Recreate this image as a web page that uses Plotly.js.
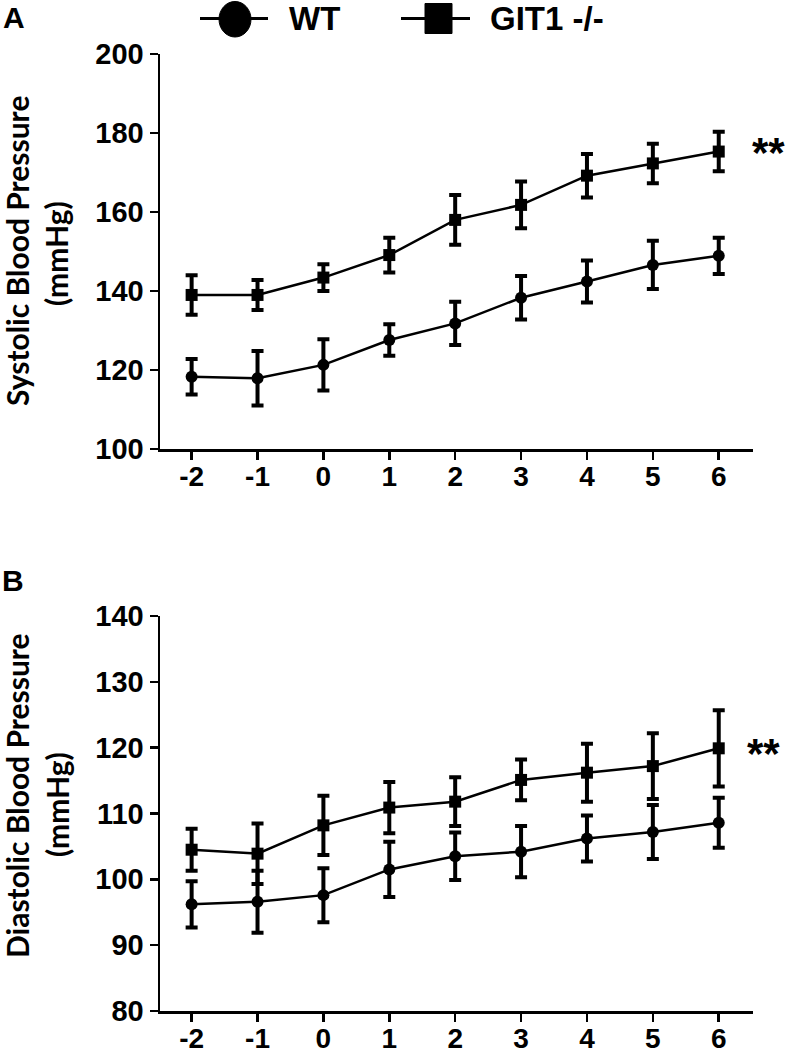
<!DOCTYPE html>
<html>
<head>
<meta charset="utf-8">
<script src="https://cdn.plot.ly/plotly-3.0.1.min.js"></script>
<style>html,body{margin:0;padding:0;background:#fff;}#chart{width:789px;height:1055px;}</style>
</head>
<body>
<div id="chart"></div>
<script>
// ---- data ----
var days = [-2, -1, 0, 1, 2, 3, 4, 5, 6];
var dayTicks = ['-2', '-1', '0', '1', '2', '3', '4', '5', '6'];

var wtSys     = [118.3, 117.9, 121.3, 127.6, 131.8, 138.3, 142.4, 146.6, 148.9];
var wtSysErr  = [4.5, 6.9, 6.5, 4.0, 5.5, 5.5, 5.3, 6.1, 4.6];
var gitSys    = [139.0, 139.0, 143.4, 149.1, 158.0, 161.8, 169.2, 172.3, 175.3];
var gitSysErr = [5.0, 3.8, 3.4, 4.4, 6.3, 5.9, 5.5, 5.0, 5.0];

var wtDia     = [96.2, 96.6, 97.6, 101.5, 103.5, 104.2, 106.2, 107.2, 108.6];
var wtDiaErr  = [3.5, 4.7, 4.1, 4.2, 3.6, 3.9, 3.5, 4.1, 3.8];
var gitDia    = [104.5, 103.9, 108.2, 110.9, 111.8, 115.1, 116.2, 117.2, 119.9];
var gitDiaErr = [3.2, 4.6, 4.5, 3.9, 3.7, 3.1, 4.4, 5.0, 5.8];

var seriesNames = ['WT', 'GIT1 -/-'];
var sysTicks = [100, 120, 140, 160, 180, 200];
var diaTicks = [80, 90, 100, 110, 120, 130, 140];
var sysTitle = 'Systolic Blood Pressure';
var diaTitle = 'Diastolic Blood Pressure';
var unitTitle = '(mmHg)';
var sigMark = '**';

// ---- layout helpers ----
var W = 789, H = 1055;
function px(x) { return x / W; }
function py(y) { return 1 - y / H; }

var numFont = {family: 'Liberation Sans, Arial, sans-serif', size: 29, color: '#000', weight: 'bold'};
var xNumFont = {family: 'Liberation Sans, Arial, sans-serif', size: 28, color: '#000', weight: 'bold'};
var titleFont = {family: 'Lato, Liberation Sans, sans-serif', size: 30, color: '#000', weight: 'bold'};

function trace(x, y, err, symbol, xa, ya, name) {
  return {
    x: x, y: y, xaxis: xa, yaxis: ya, name: name,
    type: 'scatter', mode: 'lines+markers', showlegend: false,
    line: {color: '#000', width: 2.5},
    marker: {symbol: symbol, size: 12, color: '#000'},
    error_y: {type: 'data', array: err, visible: true, color: '#000', thickness: 4, width: 6},
    cliponaxis: false
  };
}

var data = [
  trace(days, wtSys, wtSysErr, 'circle', 'x', 'y', seriesNames[0]),
  trace(days, gitSys, gitSysErr, 'square', 'x', 'y', seriesNames[1]),
  trace(days, wtDia, wtDiaErr, 'circle', 'x2', 'y2', seriesNames[0]),
  trace(days, gitDia, gitDiaErr, 'square', 'x2', 'y2', seriesNames[1])
];

var xdom = [px(160), px(753)];
var xr = [-2.48, 6.52];
function xaxisDef(anchor) {
  return {
    domain: xdom, range: xr, anchor: anchor,
    tickmode: 'array', tickvals: days, ticktext: dayTicks,
    ticks: 'outside', ticklen: 8, tickwidth: 2.5, tickcolor: '#000',
    ticklabelstandoff: -7,
    showline: true, linewidth: 2.5, linecolor: '#000',
    showgrid: false, zeroline: false, tickfont: xNumFont, fixedrange: true
  };
}
function yaxisDef(anchor, dom, range, ticks) {
  return {
    domain: dom, range: range, anchor: anchor,
    tickmode: 'array', tickvals: ticks, ticktext: ticks.map(String),
    ticks: 'outside', ticklen: 8, tickwidth: 2.5, tickcolor: '#000',
    showline: true, linewidth: 2.5, linecolor: '#000',
    showgrid: false, zeroline: false, tickfont: numFont, fixedrange: true
  };
}

var ann = [];
function textAt(text, x, y, font, opts) {
  var a = {text: text, xref: 'paper', yref: 'paper', x: px(x), y: py(y),
           showarrow: false, font: font, xanchor: 'center', yanchor: 'middle'};
  for (var k in opts) a[k] = opts[k];
  ann.push(a);
}
// panel letters
textAt('A', 14, 17, {family: 'Liberation Sans, Arial', size: 30, color: '#000', weight: 'bold'});
textAt('B', 13, 580, {family: 'Liberation Sans, Arial', size: 30, color: '#000', weight: 'bold'});
// axis titles
textAt(sysTitle, 17, 251, titleFont, {textangle: -90});
textAt(unitTitle, 56, 254, titleFont, {textangle: -90});
textAt(diaTitle, 17, 796, titleFont, {textangle: -90});
textAt(unitTitle, 57, 804, titleFont, {textangle: -90});
// legend text
textAt(seriesNames[0], 287, 19, {family: 'Liberation Sans, Arial', size: 33, color: '#000', weight: 'bold'}, {xanchor: 'left'});
textAt(seriesNames[1], 488, 19, {family: 'Liberation Sans, Arial', size: 33, color: '#000', weight: 'bold'}, {xanchor: 'left'});
// significance marks next to last GIT1 points
ann.push({text: sigMark, xref: 'x', yref: 'y', x: days[days.length - 1], y: gitSys[gitSys.length - 1],
          xshift: 50, yshift: -1, showarrow: false, font: {family: 'Liberation Sans, Arial', size: 42, color: '#000', weight: 'bold'},
          xanchor: 'center', yanchor: 'middle'});
ann.push({text: sigMark, xref: 'x2', yref: 'y2', x: days[days.length - 1], y: gitDia[gitDia.length - 1],
          xshift: 45, yshift: -5, showarrow: false, font: {family: 'Liberation Sans, Arial', size: 42, color: '#000', weight: 'bold'},
          xanchor: 'center', yanchor: 'middle'});

// legend symbols as shapes
var shapes = [
  {type: 'line', xref: 'paper', yref: 'paper', x0: px(200), x1: px(268), y0: py(18.5), y1: py(18.5), line: {color: '#000', width: 3}},
  {type: 'circle', xref: 'paper', yref: 'paper', x0: px(219), x1: px(251), y0: py(37), y1: py(1.5), fillcolor: '#000', line: {color: '#000', width: 1}},
  {type: 'line', xref: 'paper', yref: 'paper', x0: px(401), x1: px(470), y0: py(18.5), y1: py(18.5), line: {color: '#000', width: 3}},
  {type: 'rect', xref: 'paper', yref: 'paper', x0: px(425), x1: px(452), y0: py(33.5), y1: py(3.5), fillcolor: '#000', line: {color: '#000', width: 1}}
];

var layout = {
  width: W, height: H,
  margin: {l: 0, r: 0, t: 0, b: 0, pad: 0},
  paper_bgcolor: '#fff', plot_bgcolor: '#fff',
  showlegend: false,
  xaxis: xaxisDef('y'),
  yaxis: yaxisDef('x', [py(449), py(54)], [100, 200], sysTicks),
  xaxis2: xaxisDef('y2'),
  yaxis2: yaxisDef('x2', [py(1011), py(616)], [80, 140], diaTicks),
  annotations: ann,
  shapes: shapes
};

Plotly.newPlot('chart', data, layout, {staticPlot: true, displayModeBar: false});
</script>
</body>
</html>
